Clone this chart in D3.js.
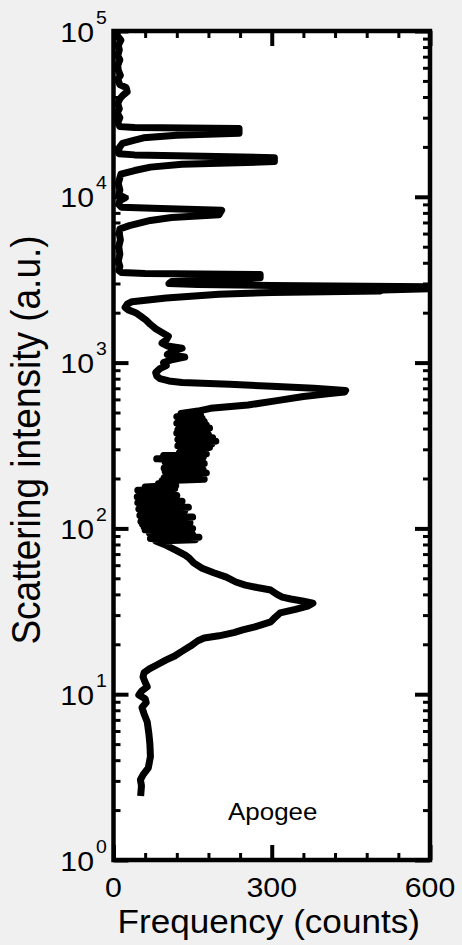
<!DOCTYPE html>
<html>
<head>
<meta charset="utf-8">
<script src="https://cdn.jsdelivr.net/npm/d3@7"></script>
<style>
  html, body { margin: 0; padding: 0; background: #f0f0f0; }
  svg { display: block; }
  text { font-family: "Liberation Sans", Arial, sans-serif; fill: #000; }
</style>
</head>
<body>
<svg id="chart" width="462" height="945"></svg>
<script>
// Histogram of scattering intensity (log axis) versus frequency of counts
const intensity = [
  2.55, 2.8, 3.05, 3.3, 3.6, 4.2, 5.0, 5.8, 6.8, 7.6, 8.3, 8.9, 9.4, 9.9, 10.5, 11.1, 11.8, 12.7, 13.5, 14.2,
  15.0, 16.1, 17.0, 18.0, 19.5, 21.0, 21.8, 22.5, 23.5, 24.4, 25.5, 27.3, 29.0, 30.9, 32.5, 34.0, 35.4, 36.5,
  37.5, 38.5, 40.0, 42.5, 44.0, 45.5, 47.5, 50.8, 54.0, 57.5, 62.0, 66.0, 69.0, 74.0, 79.0,
  84, 85.5, 87, 88.5, 90, 92, 94, 96, 98, 100, 102, 104, 106, 108, 110, 112, 114, 117, 120, 122,
  125, 128, 131, 134, 137, 140, 143, 146, 149, 152, 155, 158, 162, 166, 170, 174, 178, 182, 186, 190,
  194, 198, 202, 206, 211, 216, 221, 226, 231, 236, 241, 246, 251, 257, 263, 269, 275, 281, 287, 294,
  301, 308, 315, 322, 329, 336, 344, 352, 360, 368, 376, 385, 394, 403, 412, 421, 431, 441, 451, 461,
  472, 483, 494,
  510, 530, 555, 590, 625, 650, 665, 680, 700, 720, 740, 758, 775,
  800, 830, 870, 920, 960, 1000, 1040, 1080, 1120, 1170, 1220, 1260, 1310, 1370, 1440, 1500, 1600, 1700,
  1800, 1900, 2000, 2080, 2150, 2250, 2330, 2450, 2580, 2650, 2700, 2740, 2790, 2870, 2920, 2960,
  3000, 3080, 3150, 3250, 3400, 3450, 3500, 3600, 3800, 4100, 4500, 5000, 5500, 6000, 6400, 6700,
  7200, 7500, 7800, 8300, 8500, 8650, 9000, 9500, 9850, 10300, 11000, 12000, 13000, 13700, 14400,
  15100, 15700, 16300, 17200, 17700, 17900, 18200, 19000, 20000, 21000, 22000, 22700, 23500,
  24200, 25800, 26200, 26500, 28000, 30000, 32000, 34000, 36500, 39000, 41000, 43000, 45500, 47500,
  51000, 54000, 58000, 62000, 67000, 71000, 77000, 82000, 88000, 93000, 98000
];
const frequency = [
  52, 53, 51, 57, 66, 70, 69, 67, 64, 58, 54, 62, 60, 48, 54, 64, 60, 56, 58, 68,
  82, 100, 116, 128, 146, 160, 172, 200, 228, 245, 268, 298, 306, 316, 345, 368, 378, 358,
  336, 320, 310, 298, 272, 250, 232, 214, 190, 168, 152, 144, 136, 118, 100,
  80, 155, 70, 162, 75, 150, 68, 148, 60, 150, 58, 140, 55, 145, 52, 138, 56, 150, 50, 128,
  52, 135, 48, 142, 50, 125, 46, 130, 48, 118, 45, 120, 50, 112, 46, 116, 60, 118, 85, 112,
  92, 172, 96, 165, 100, 176, 98, 170, 96, 165, 100, 172, 98, 168, 82, 170, 95, 176, 125, 172,
  128, 182, 122, 186, 125, 194, 122, 188, 125, 180, 120, 178, 122, 182, 125, 176, 120, 172, 124, 168,
  120, 165, 128,
  160, 184, 255, 310, 360, 410, 438, 440, 380, 300, 220, 130, 105,
  88, 82, 80, 88, 100, 95, 110, 135, 102, 112, 130, 102, 92, 100, 104, 95, 80, 70,
  62, 52, 42, 28, 22, 26, 35, 100, 200, 300, 505, 510, 600, 600, 300, 160,
  105, 110, 200, 278, 278, 60, 15, 10, 12, 9, 12, 10, 13, 11, 12, 30,
  70, 110, 200, 205, 90, 15, 10, 12, 22, 10, 12, 9, 12, 14, 40,
  70, 130, 305, 305, 120, 40, 10, 9, 12, 17, 40, 57, 120,
  238, 238, 40, 12, 8, 12, 7, 11, 8, 12, 18, 26, 24, 12,
  8, 13, 9, 8, 12, 8, 11, 9, 14, 8, 6
];
const xTicks = [0, 300, 600];
const xMinorTicks = [60, 120, 180, 240, 360, 420, 480, 540];
const yExponents = [0, 1, 2, 3, 4, 5];
const xTitle = "Frequency (counts)";
const yTitle = "Scattering intensity (a.u.)";
const panelName = "Apogee";

const svg = d3.select("#chart");
const W = 462, H = 945;
const plot = { left: 113.5, right: 430, top: 31, bottom: 860 };
const stretch = 1.08;

const x = d3.scaleLinear().domain([0, 600]).range([plot.left, plot.right]);
const y = d3.scaleLog().domain([1, 1e5]).range([plot.bottom, plot.top]);

svg.append("rect").attr("width", W).attr("height", H).attr("fill", "#f0f0f0");
svg.append("rect")
  .attr("x", plot.left).attr("y", plot.top)
  .attr("width", plot.right - plot.left).attr("height", plot.bottom - plot.top)
  .attr("fill", "#fff");

svg.append("defs").append("clipPath").attr("id", "plotClip")
  .append("rect")
  .attr("x", plot.left).attr("y", plot.top)
  .attr("width", plot.right - plot.left).attr("height", plot.bottom - plot.top);

// data curve
const pts = intensity.map((v, i) => [frequency[i], v]);
const line = d3.line().x(d => x(d[0])).y(d => y(d[1]));
svg.append("path")
  .datum(pts)
  .attr("clip-path", "url(#plotClip)")
  .attr("d", line)
  .attr("fill", "none")
  .attr("stroke", "#000")
  .attr("stroke-width", 7)
  .attr("stroke-linejoin", "round")
  .attr("stroke-linecap", "square");

// log minor tick positions
const yMinor = [];
for (let e = 0; e < 5; e++) for (let m = 2; m <= 9; m++) yMinor.push(m * Math.pow(10, e));
const yMajor = yExponents.map(e => Math.pow(10, e));

function styleAxis(g, w) {
  g.select(".domain").remove();
  g.selectAll(".tick line").attr("stroke", "#000").attr("stroke-width", w);
  g.selectAll(".tick text").remove();
}

// inward ticks on all four sides
svg.append("g").attr("transform", `translate(${plot.left},0)`)
  .call(d3.axisLeft(y).tickValues(yMajor).tickSize(-15).tickFormat(""))
  .call(g => styleAxis(g, 4));
svg.append("g").attr("transform", `translate(${plot.left},0)`)
  .call(d3.axisLeft(y).tickValues(yMinor).tickSize(-7).tickFormat(""))
  .call(g => styleAxis(g, 3));
svg.append("g").attr("transform", `translate(${plot.right},0)`)
  .call(d3.axisRight(y).tickValues(yMajor).tickSize(-15).tickFormat(""))
  .call(g => styleAxis(g, 4));
svg.append("g").attr("transform", `translate(${plot.right},0)`)
  .call(d3.axisRight(y).tickValues(yMinor).tickSize(-7).tickFormat(""))
  .call(g => styleAxis(g, 3));

svg.append("g").attr("transform", `translate(0,${plot.bottom})`)
  .call(d3.axisBottom(x).tickValues(xTicks).tickSize(-15).tickFormat(""))
  .call(g => styleAxis(g, 4));
svg.append("g").attr("transform", `translate(0,${plot.bottom})`)
  .call(d3.axisBottom(x).tickValues(xMinorTicks).tickSize(-7).tickFormat(""))
  .call(g => styleAxis(g, 3));
svg.append("g").attr("transform", `translate(0,${plot.top})`)
  .call(d3.axisTop(x).tickValues(xTicks).tickSize(-15).tickFormat(""))
  .call(g => styleAxis(g, 4));
svg.append("g").attr("transform", `translate(0,${plot.top})`)
  .call(d3.axisTop(x).tickValues(xMinorTicks).tickSize(-7).tickFormat(""))
  .call(g => styleAxis(g, 3));

// frame
svg.append("rect")
  .attr("x", plot.left).attr("y", plot.top)
  .attr("width", plot.right - plot.left).attr("height", plot.bottom - plot.top)
  .attr("fill", "none").attr("stroke", "#000").attr("stroke-width", 4.5);

// x tick labels
svg.append("g").selectAll("text").data(xTicks).join("text")
  .attr("transform", d => `translate(${x(d)},897) scale(${stretch},1)`)
  .attr("text-anchor", "middle")
  .attr("font-size", 28)
  .text(d => d);

// y tick labels: 10 with superscript exponent
const yl = svg.append("g").selectAll("g").data(yExponents).join("g")
  .attr("transform", d => `translate(0,${y(Math.pow(10, d))})`);
yl.append("text")
  .attr("transform", `translate(94,10.5) scale(${stretch},1)`)
  .attr("text-anchor", "end")
  .attr("font-size", 28)
  .text("10");
yl.append("text")
  .attr("transform", `translate(96,-7.5) scale(${stretch},1)`)
  .attr("text-anchor", "start")
  .attr("font-size", 18)
  .text(d => d);

// axis titles
svg.append("text")
  .attr("transform", `translate(${(plot.left + plot.right) / 2 - 3},933) scale(${stretch},1)`)
  .attr("text-anchor", "middle")
  .attr("font-size", 32.5)
  .text(xTitle);
svg.append("text")
  .attr("transform", `translate(40,440) rotate(-90) scale(1,${stretch})`)
  .attr("text-anchor", "middle")
  .attr("font-size", 37)
  .text(yTitle);

// panel name
svg.append("text")
  .attr("transform", `translate(${(plot.left + plot.right) / 2 + 1},820) scale(${stretch},1)`)
  .attr("text-anchor", "middle")
  .attr("font-size", 24)
  .text(panelName);
</script>
</body>
</html>
